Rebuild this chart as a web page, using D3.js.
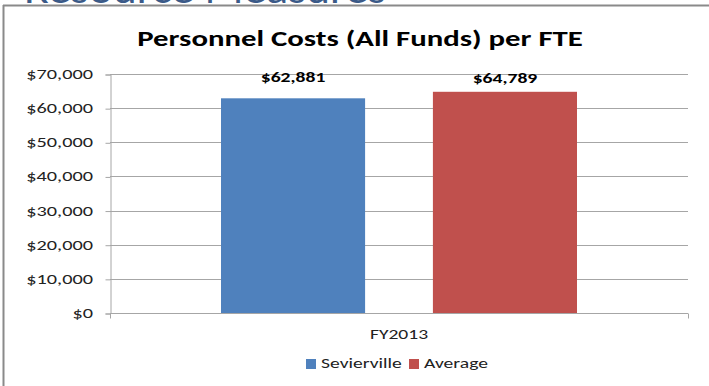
<!DOCTYPE html>
<html><head><meta charset="utf-8">
<script src="https://cdn.jsdelivr.net/npm/d3@7"></script>
<style>body{margin:0;background:#fff;} svg{display:block;}</style>
</head><body>
<script>
const categories = ["FY2013"];
const seriesNames = ["Sevierville", "Average"];
const seriesValues = [62881, 64789];
const yTicks = [0, 10000, 20000, 30000, 40000, 50000, 60000, 70000];
const colors = ["#4F81BD", "#C0504D"];

const W = 709, H = 386;
const SX = 1.4; // horizontal stretch of the source picture
const svg = d3.select("body").append("svg").attr("width", W).attr("height", H);
const font = "Carlito, 'Open Sans', 'Liberation Sans', sans-serif";

function stext(g, x, y, txt, size, anchor, weight, fill) {
  return g.append("text").attr("transform", `translate(${x},${y}) scale(${SX},1)`)
    .attr("text-anchor", anchor || "start").attr("font-family", font)
    .attr("font-size", size).attr("font-weight", weight || "normal")
    .attr("fill", fill || "#222").text(txt);
}

// Slide heading partly cut off
svg.append("text").attr("x", 24).attr("y", 3).attr("font-family", font)
  .attr("font-size", 42).attr("fill", "#3B5A88").attr("textLength", 362)
  .attr("lengthAdjust", "spacingAndGlyphs").text("Resource Measures");

// Frame
svg.append("rect").attr("x", 3).attr("y", 5).attr("width", W).attr("height", H).attr("fill", "#fff");
svg.append("line").attr("x1", 3).attr("x2", W).attr("y1", 5.5).attr("y2", 5.5).attr("stroke", "#8a8a8a").attr("stroke-width", 2);
svg.append("line").attr("x1", 3.5).attr("x2", 3.5).attr("y1", 5).attr("y2", H).attr("stroke", "#8a8a8a").attr("stroke-width", 2);

const m = {l: 110, r: 688, t: 74, b: 313};
const y = d3.scaleLinear().domain([0, 70000]).range([m.b, m.t]);
const x0 = d3.scaleBand().domain(categories).range([m.l, m.r]);
const x1 = d3.scaleBand().domain(seriesNames).range([111, x0.bandwidth() - 111]).paddingInner(0.32);

// Title
stext(svg, 360, 46, "Personnel Costs (All Funds) per FTE", 22, "middle", "bold", "#000");

// Gridlines
svg.append("g").selectAll("line").data(yTicks.filter(d => d > 0)).join("line")
  .attr("x1", m.l).attr("x2", m.r).attr("y1", d => Math.round(y(d)) + 0.5).attr("y2", d => Math.round(y(d)) + 0.5)
  .attr("stroke", "#a6a6a6").attr("stroke-width", 1);

// Y axis
const yAxis = d3.axisLeft(y).tickValues(yTicks).tickSize(5).tickFormat(() => "");
const ga = svg.append("g").attr("transform", `translate(${m.l + 0.5},0.5)`).call(yAxis);
ga.select(".domain").attr("stroke", "#a6a6a6");
ga.selectAll(".tick line").attr("stroke", "#a6a6a6");
const fmt = d => "$" + d3.format(",")(d);
yTicks.forEach(t => stext(svg, 93, y(t) + 5, fmt(t), 14.5, "end"));

// X axis
const gx = svg.append("g").attr("transform", `translate(0,${m.b + 0.5})`);
gx.append("line").attr("x1", m.l).attr("x2", m.r).attr("stroke", "#a6a6a6");
gx.selectAll("line.t").data([m.l, m.r]).join("line").attr("class", "t")
  .attr("x1", d => d + 0.5).attr("x2", d => d + 0.5).attr("y1", 0).attr("y2", 5).attr("stroke", "#a6a6a6");
categories.forEach(c => stext(svg, x0(c) + x0.bandwidth() / 2, 339, c, 14, "middle"));

// Bars
const data = seriesNames.map((s, i) => ({s, v: seriesValues[i], c: colors[i], cat: categories[0]}));
svg.selectAll("rect.bar").data(data).join("rect").attr("class", "bar")
  .attr("x", d => x0(d.cat) + x1(d.s)).attr("width", x1.bandwidth())
  .attr("y", d => y(d.v)).attr("height", d => m.b - y(d.v)).attr("fill", d => d.c);

// Value labels
data.forEach((d, i) => stext(svg, x0(d.cat) + x1(d.s) + x1.bandwidth() / 2, i === 0 ? 82 : 83,
  fmt(d.v), 14, "middle", "bold", "#000"));

// Legend
const leg = [{s: seriesNames[0], c: colors[0], x: 306}, {s: seriesNames[1], c: colors[1], x: 409}];
const lg = svg.append("g");
lg.selectAll("rect").data(leg).join("rect").attr("x", d => d.x).attr("y", 359).attr("width", 10).attr("height", 10).attr("fill", d => d.c);
leg.forEach(d => stext(lg, d.x + 15, 368, d.s, 14, "start"));
</script>
</body></html>
